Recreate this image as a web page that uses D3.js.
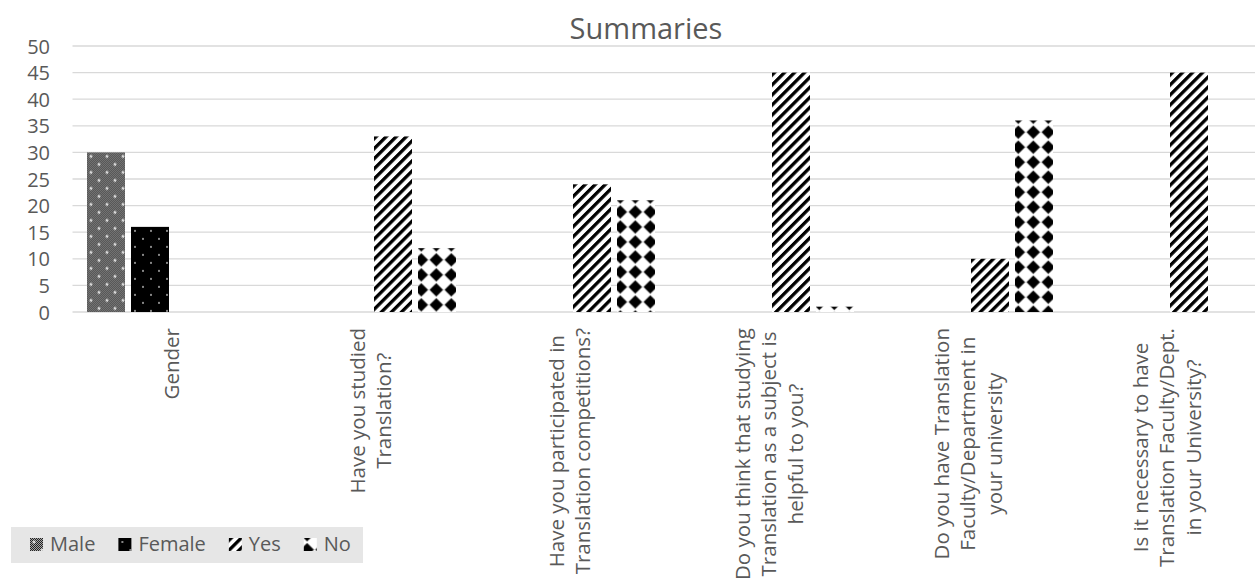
<!DOCTYPE html>
<html>
<head>
<meta charset="utf-8">
<script src="https://cdn.jsdelivr.net/npm/d3@7"></script>
<style>
  html, body { margin: 0; padding: 0; background: #ffffff; }
  svg { display: block; font-family: "Open Sans", sans-serif; }
</style>
</head>
<body>
<svg id="chart" width="1255" height="579"></svg>
<script>
// Survey summary: one group per question, one bar per answer
const categories = [
  ["Gender"],
  ["Have you studied", "Translation?"],
  ["Have you participated in", "Translation competitions?"],
  ["Do you think that studying", "Translation as a subject is", "helpful to you?"],
  ["Do you have Translation", "Faculty/Department in", "your university"],
  ["Is it necessary to have", "Translation Faculty/Dept.", "in your University?"]
];
const seriesNames = ["Male", "Female", "Yes", "No"];
const maleValues   = [30, null, null, null, null, null];
const femaleValues = [16, null, null, null, null, null];
const yesValues    = [null, 33, 24, 45, 10, 45];
const noValues     = [null, 12, 21, 1, 36, 0];
const yTicks = [0, 5, 10, 15, 20, 25, 30, 35, 40, 45, 50];
const titleText = "Summaries";

const seriesValues = [maleValues, femaleValues, yesValues, noValues];

const svg = d3.select("#chart");
const textColor = "#595959";
const gridColor = "#d9d9d9";
const defs = svg.append("defs");

// fine checker used as the base of the "Male" fill
const chk = defs.append("pattern").attr("id", "pChecker")
  .attr("patternUnits", "userSpaceOnUse").attr("width", 2).attr("height", 2);
chk.append("rect").attr("width", 2).attr("height", 2).attr("fill", "#a8a8a8");
chk.append("rect").attr("x", 0).attr("y", 0).attr("width", 1).attr("height", 1).attr("fill", "#222");
chk.append("rect").attr("x", 1).attr("y", 1).attr("width", 1).attr("height", 1).attr("fill", "#222");

// Each series fill is built by a function so that every bar can own a
// copy of the tile anchored at its own top-left corner.
const patternMakers = {
  Male(p) {
    p.attr("width", 16).attr("height", 16);
    p.append("rect").attr("width", 16).attr("height", 16).attr("fill", "url(#pChecker)");
    [[4, 4], [12, 12]].forEach(([cx, cy]) => {
      p.append("rect").attr("x", cx - 1.5).attr("y", cy - 0.5).attr("width", 3).attr("height", 1).attr("fill", "#fff");
      p.append("rect").attr("x", cx - 0.5).attr("y", cy - 1.5).attr("width", 1).attr("height", 3).attr("fill", "#fff");
    });
  },
  Female(p) {
    p.attr("width", 16).attr("height", 16);
    p.append("rect").attr("width", 16).attr("height", 16).attr("fill", "#000");
    [[4, 4], [12, 12]].forEach(([cx, cy]) => {
      p.append("rect").attr("x", cx - 0.75).attr("y", cy - 0.75).attr("width", 1.5).attr("height", 1.5).attr("fill", "#eee");
    });
  },
  Yes(p) {
    p.attr("width", 7.1).attr("height", 10);
    p.append("rect").attr("width", 7.1).attr("height", 10).attr("fill", "#fff");
    p.append("rect").attr("width", 3.3).attr("height", 10).attr("fill", "#000");
  },
  No(p) {
    p.attr("width", 15).attr("height", 15);
    p.append("rect").attr("width", 15).attr("height", 15).attr("fill", "#fff");
    p.append("path").attr("d", "M7.5,1.2 L13.8,7.5 L7.5,13.8 L1.2,7.5 Z")
      .attr("fill", "#000").attr("stroke", "#000").attr("stroke-width", 1).attr("stroke-linejoin", "round");
  }
};
// tile origin relative to the bar's top-left corner
const tileOffset = { Male: [0, 0], Female: [0, 0], Yes: [0, 0], No: [-4.2, -10.8] };
const tileRotate = { Male: 0, Female: 0, Yes: 45, No: 0 };

let patternId = 0;
function makeFill(name, bx, by) {
  const id = "pat" + (patternId++);
  const [ox, oy] = tileOffset[name];
  const p = defs.append("pattern").attr("id", id).attr("patternUnits", "userSpaceOnUse")
    .attr("patternTransform", `translate(${bx + ox},${by + oy}) rotate(${tileRotate[name]})`);
  patternMakers[name](p);
  return `url(#${id})`;
}

// ---- scales ----
const plotLeft = 72.5, plotRight = 1266.5, plotTop = 46, plotBottom = 312;
const x0 = d3.scaleBand().domain(d3.range(categories.length)).range([plotLeft, plotRight]).padding(0);
const x1 = d3.scaleBand().domain(seriesNames).range([0, x0.bandwidth()])
  .paddingInner(6 / 44).paddingOuter(0.3295);
const y = d3.scaleLinear().domain([0, 50]).range([plotBottom, plotTop]);

// ---- gridlines ----
svg.append("g").selectAll("line").data(yTicks).join("line")
  .attr("x1", plotLeft).attr("x2", 1255)
  .attr("y1", d => y(d)).attr("y2", d => y(d))
  .attr("stroke", gridColor).attr("stroke-width", 1.3);

// ---- y axis labels ----
const yAxis = d3.axisLeft(y).tickValues(yTicks).tickSize(0).tickPadding(0);
const yg = svg.append("g").attr("transform", "translate(50,0)").call(yAxis);
yg.select(".domain").remove();
yg.selectAll("text").attr("fill", textColor).attr("font-size", 20)
  .attr("font-family", "'Open Sans', sans-serif").attr("x", 0).attr("dy", "0.35em");

// ---- bars ----
const bars = svg.append("g");
seriesNames.forEach((name, si) => {
  const data = seriesValues[si].map((v, ci) => ({ ci, v })).filter(d => d.v != null && d.v > 0);
  bars.append("g").selectAll("rect").data(data).join("rect")
    .attr("x", d => x0(d.ci) + x1(name))
    .attr("width", x1.bandwidth())
    .attr("y", d => y(d.v))
    .attr("height", d => y(0) - y(d.v))
    .attr("fill", d => makeFill(name, x0(d.ci) + x1(name), y(d.v)));
});

// ---- category labels: rotated, lines centred on each other, block hung from the axis ----
const labelTop = 328, lineGap = 26.5;
categories.forEach((lines, ci) => {
  const cx = x0(ci) + x0.bandwidth() / 2;
  const g = svg.append("g").attr("transform", `translate(${cx},${labelTop}) rotate(-90)`);
  const texts = g.selectAll("text").data(lines).join("text")
    .attr("font-size", 20.5).attr("fill", textColor)
    .attr("text-anchor", "start")
    .attr("y", (d, i) => (i - (lines.length - 1) / 2) * lineGap)
    .attr("dy", "0.35em")
    .text(d => d);
  const widths = [];
  texts.each(function () { widths.push(this.getComputedTextLength()); });
  const maxW = d3.max(widths);
  texts.attr("x", (d, i) => -(maxW + widths[i]) / 2);
});

// ---- title ----
svg.append("text").attr("x", 646).attr("y", 38.5)
  .attr("text-anchor", "middle").attr("font-size", 29).attr("fill", textColor)
  .text(titleText);

// ---- legend ----
const lg = svg.append("g");
lg.append("rect").attr("x", 11).attr("y", 527).attr("width", 352).attr("height", 36).attr("fill", "#e6e6e6");
let lx = 30;
seriesNames.forEach((name) => {
  lg.append("rect").attr("x", lx).attr("y", 538).attr("width", 13).attr("height", 13)
    .attr("fill", makeFill(name, lx, 538));
  const t = lg.append("text").attr("x", lx + 20).attr("y", 544).attr("dy", "0.35em")
    .attr("font-size", 20).attr("fill", textColor).text(name);
  lx += 20 + t.node().getComputedTextLength() + 23;
});
</script>
</body>
</html>
